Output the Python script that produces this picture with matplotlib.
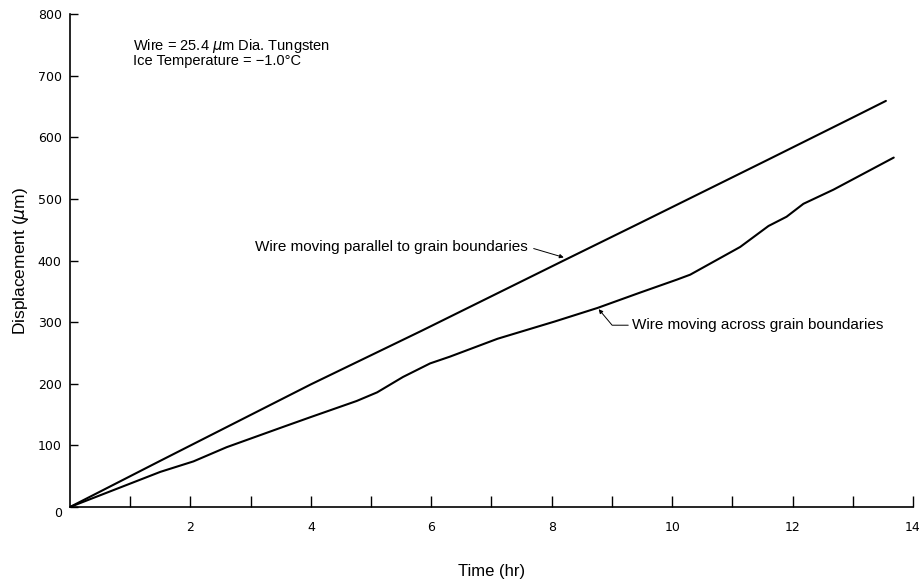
import matplotlib
matplotlib.use("Agg")
import matplotlib.pyplot as plt
import numpy as np

# Data
t_parallel = [0.0, 1.5, 4.0, 5.84, 8.2, 9.47, 11.58, 13.04, 13.55]
d_parallel = [0, 75, 199, 286, 400, 461, 563, 634, 659]

t_across = [0.0, 1.5, 2.05, 2.6, 3.54, 4.0, 4.76, 5.1, 5.53, 5.98, 6.31, 7.1, 8.05, 8.76,
            9.47, 10.08, 10.3, 11.13, 11.6, 11.9, 12.18, 12.68, 13.68]
d_across = [0, 57, 74, 97, 130, 146, 172, 186, 211, 233, 244, 273, 301, 323,
            348, 369, 377, 422, 456, 471, 492, 515, 567]

x_ticks_major = [2, 4, 6, 8, 10, 12, 14]
x_ticks_minor = list(range(1, 15))
y_ticks = [0, 100, 200, 300, 400, 500, 600, 700, 800]

fig = plt.figure(figsize=(9.19, 5.82), dpi=100)
ax = fig.add_axes([70/919, 1-507/582, (913-70)/919, (507-14)/582])

ax.plot(t_parallel, d_parallel, color="black", lw=1.5, solid_capstyle="round")
ax.plot(t_across, d_across, color="black", lw=1.5, solid_capstyle="round")

ax.set_xlim(0, 14)
ax.set_ylim(0, 800)
for s in ["top", "right"]:
    ax.spines[s].set_visible(False)
ax.spines["left"].set_linewidth(1.2)
ax.spines["bottom"].set_linewidth(1.2)

ax.set_xticks(x_ticks_minor)
ax.set_xticklabels([str(v) if v in x_ticks_major else "" for v in x_ticks_minor])
ax.set_yticks(y_ticks)
ax.set_yticklabels([str(v) for v in y_ticks])
ax.tick_params(axis="x", direction="in", length=8, width=1, pad=10, labelsize=9)
ax.tick_params(axis="y", direction="in", length=6, width=1, pad=6, labelsize=9)
for lab in ax.get_yticklabels():
    if lab.get_text() == "0":
        lab.set_va("top")

ax.set_xlabel("Time (hr)", fontsize=12, labelpad=22, family="Liberation Sans")
ax.set_ylabel("Displacement ($\\mu$m)", fontsize=12.5, labelpad=5, family="Liberation Sans")

ax.text(1.05, 748, "Wire = 25.4 $\\mu$m Dia. Tungsten", fontsize=10.5,
        family="Liberation Sans", va="center")
ax.text(1.05, 723, "Ice Temperature = \u22121.0\u00b0C", fontsize=10.5,
        family="Liberation Sans", va="center")

ax.annotate("Wire moving parallel to grain boundaries", xy=(8.2, 405), xytext=(7.61, 422),
            fontsize=11, family="Liberation Sans", ha="right", va="center",
            arrowprops=dict(arrowstyle="-|>", color="black", lw=0.7, mutation_scale=6,
                            shrinkA=2, shrinkB=0, relpos=(1, 0.5)))
ax.annotate("Wire moving across grain boundaries", xy=(8.78, 321), xytext=(9.34, 295),
            fontsize=11, family="Liberation Sans", ha="left", va="center",
            arrowprops=dict(arrowstyle="-|>", color="black", lw=0.7, mutation_scale=6,
                            shrinkA=1, shrinkB=0, relpos=(0, 0.5),
                            connectionstyle="angle,angleA=0,angleB=-50,rad=0"))

fig.savefig("out.png", dpi=100)
